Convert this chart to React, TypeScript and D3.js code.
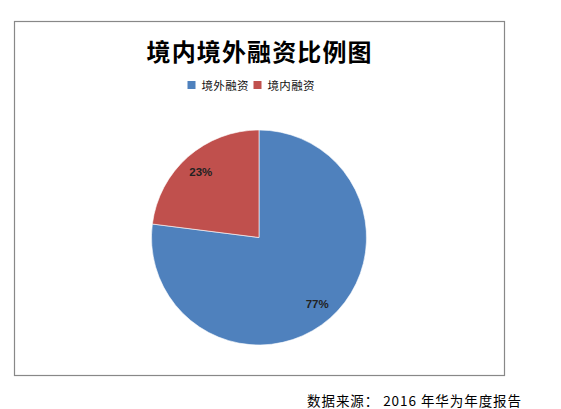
import React from "react";
import * as d3 from "d3";

const categories = ["境外融资", "境内融资"];
const values = [77, 23];
const labels = ["77%", "23%"];
const colors = ["#4F81BD", "#C0504D"];
const title = "境内境外融资比例图";
const sourceNote = "数据来源：  2016 年华为年度报告";

const W = 561;
const H = 409;
const cx = 259;
const cy = 237.5;
const R = 107.5;

export default function App() {
  const pie = d3.pie<number>().sort(null).value((d) => d);
  const arcs = pie(values);
  const arcGen = d3.arc<d3.PieArcDatum<number>>().innerRadius(0).outerRadius(R);
  const labelArc = d3.arc<d3.PieArcDatum<number>>().innerRadius(88).outerRadius(88);

  const legendX = [187.5, 253.5];

  return (
    <div style={{ position: "absolute", left: 0, top: 0 }}>
      <svg width={W} height={H} style={{ display: "block", background: "#fff" }}>
        <rect x={14.5} y={21.5} width={490} height={354} fill="#fff" stroke="#888" strokeWidth={1.2} />
        <text
          x={259}
          y={50}
          textAnchor="middle"
          dominantBaseline="central"
          fontFamily="'Noto Sans CJK SC', sans-serif"
          fontWeight={700}
          fontSize={24}
          fill="#000"
          textLength={225}
          lengthAdjust="spacing"
        >
          {title}
        </text>
        {categories.map((c, i) => (
          <g key={c}>
            <rect x={legendX[i]} y={81} width={8} height={8} fill={colors[i]} />
            <text
              x={legendX[i] + 14}
              y={85}
              dominantBaseline="central"
              fontFamily="'Noto Sans CJK SC', sans-serif"
              fontSize={11.5}
              fill="#111"
              textLength={47}
              lengthAdjust="spacing"
            >
              {c}
            </text>
          </g>
        ))}
        <g transform={`translate(${cx},${cy})`}>
          {arcs.map((a, i) => (
            <path key={i} d={arcGen(a) || ""} fill={colors[i]} stroke="#fff" strokeWidth={0.6} />
          ))}
          {arcs.map((a, i) => {
            const [lx, ly] = labelArc.centroid(a);
            return (
              <text
                key={"l" + i}
                x={lx}
                y={ly}
                textAnchor="middle"
                dominantBaseline="central"
                fontFamily="'Liberation Sans', Arial, sans-serif"
                fontWeight={700}
                fontSize={11.5}
                fill="#222"
              >
                {labels[i]}
              </text>
            );
          })}
        </g>
        <text
          x={307}
          y={400}
          dominantBaseline="central"
          fontFamily="'Noto Sans CJK SC', sans-serif"
          fontSize={13.5}
          fill="#000"
          textLength={214}
          lengthAdjust="spacing"
        >
          {sourceNote}
        </text>
      </svg>
    </div>
  );
}
